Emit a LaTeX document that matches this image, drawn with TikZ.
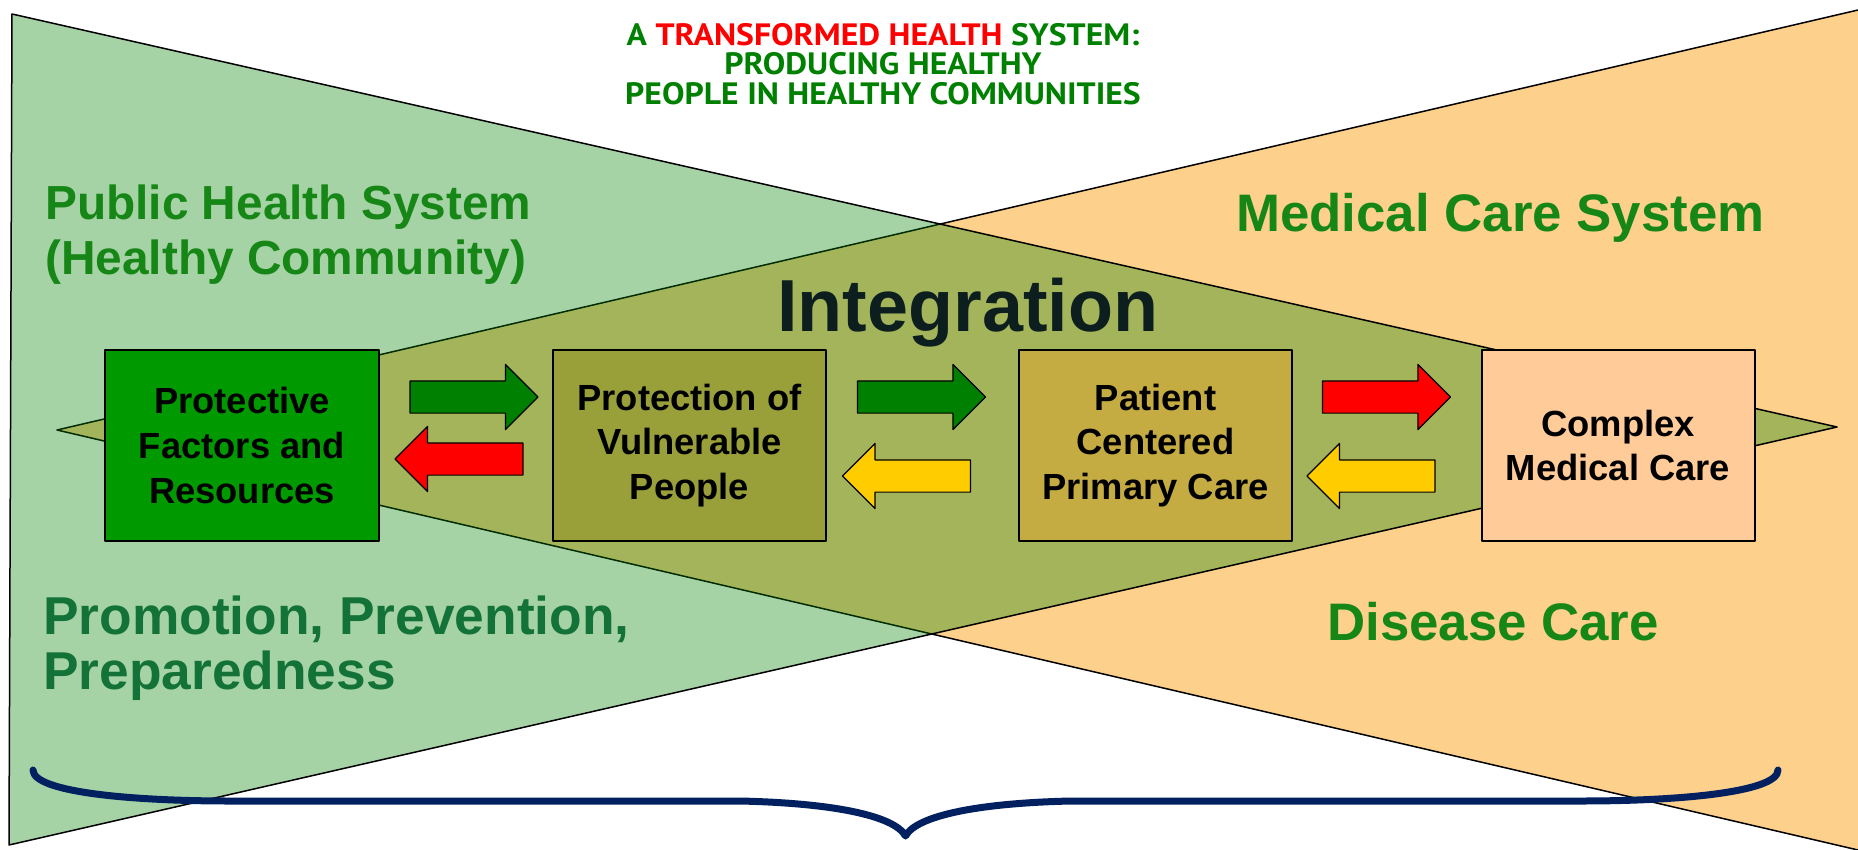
\documentclass[tikz,border=0pt]{standalone}
\usepackage{fontspec}
\setmainfont{Liberation Sans}
\newfontfamily\titlefont{PT Sans}[FakeStretch=1.09]
\usetikzlibrary{shapes.arrows}

\definecolor{orangefill}{RGB}{253,208,140}
\definecolor{phgreen}{RGB}{0,128,0}
\definecolor{labelgreen}{RGB}{22,134,22}
\definecolor{promogreen}{RGB}{19,114,56}
\definecolor{intdark}{RGB}{13,30,30}
\definecolor{factorsgreen}{RGB}{0,153,0}
\definecolor{vulnolive}{RGB}{153,160,58}
\definecolor{primarygold}{RGB}{196,172,66}
\definecolor{complexpeach}{RGB}{255,204,153}
\definecolor{arrowyellow}{RGB}{255,204,0}
\definecolor{bracenavy}{RGB}{0,32,96}

\begin{document}
\begin{tikzpicture}[x=1bp, y=-1bp, line join=round,
    box/.style={draw=black, line width=2bp, minimum width=273bp, minimum height=191bp,
      inner sep=0pt, align=center, font=\fontsize{36.5}{45}\selectfont\bfseries},
    blockarrow/.style={single arrow, draw=black, line width=1.2bp, minimum height=128bp,
      inner xsep=0pt, inner ysep=15.5bp, single arrow head extend=16.5bp, single arrow tip angle=90},
    toright/.style={blockarrow, shape border rotate=0},
    toleft/.style={blockarrow, shape border rotate=180},
    sidelabel/.style={anchor=base west, inner sep=0pt, align=left}]
    \useasboundingbox (0,0) rectangle (1858,850);

    \coordinate (OA) at (57,430);
    \coordinate (OT) at (1858,10);
    \coordinate (OB) at (1858,850);
    \coordinate (GT) at (12,14);
    \coordinate (GB) at (9,845);
    \coordinate (GA) at (1837,427);

    \fill[orangefill] (OA)--(OT)--(OB)--cycle;
    \draw[line width=1.5bp] (OT)--(OA)--(OB);
    \fill[phgreen, fill opacity=.35] (GT)--(GA)--(GB)--cycle;
    \draw[line width=1.5bp] (GT)--(GA)--(GB)--cycle;

    \node[font=\titlefont\bfseries\fontsize{31}{29.5}\selectfont, text=phgreen, align=center, inner sep=0pt, anchor=base] (title) at (883,104)
      {A \textcolor{red}{TRANSFORMED HEALTH} SYSTEM:\\PRODUCING HEALTHY\\PEOPLE IN HEALTHY COMMUNITIES};

    \node[sidelabel, text=labelgreen, font=\fontsize{48}{55}\selectfont\bfseries] (public) at (45,274)
      {Public Health System\\(Healthy Community)};
    \node[sidelabel, text=labelgreen, font=\fontsize{53}{55}\selectfont\bfseries] (medical) at (1236,231)
      {Medical Care System};
    \node[sidelabel, text=promogreen, font=\fontsize{53.5}{55}\selectfont\bfseries] (promotion) at (43,689)
      {Promotion, Prevention,\\Preparedness};
    \node[sidelabel, text=labelgreen, font=\fontsize{53}{55}\selectfont\bfseries] (disease) at (1327,640)
      {Disease Care};
    \node[sidelabel, text=intdark, font=\fontsize{74}{80}\selectfont\bfseries] (integration) at (777,331)
      {Integration};

    \node[box, fill=factorsgreen] (factors) at (242,445.5) {Protective\\Factors and\\Resources};
    \node[box, fill=vulnolive] (vulnerable) at (689.5,445.5) {Protection of\\Vulnerable\\People};
    \node[box, fill=primarygold] (primary) at (1155.5,445.5) {Patient\\Centered\\Primary Care};
    \node[box, fill=complexpeach] (complex) at (1618,445.5) {Complex\\Medical Care};

    \node[toright, fill=phgreen] (fwdA) at (466,397) {};
    \node[toleft, fill=red] (backA) at (467,459) {};
    \node[toright, fill=phgreen] (fwdB) at (913.5,397) {};
    \node[toleft, fill=arrowyellow] (backB) at (914.5,476) {};
    \node[toright, fill=red] (fwdC) at (1378.5,397) {};
    \node[toleft, fill=arrowyellow] (backC) at (1379,476) {};

    \coordinate (braceL) at (33,770);
    \coordinate (braceR) at (1778,770);
    \coordinate (braceTip) at (905.5,836);
    \draw[bracenavy, line width=7bp, line cap=round]
      (braceL) .. controls (33,792) and (130,801) .. (230,801) -- (740,801)
      .. controls (830,803) and (894,815) .. (braceTip)
      .. controls (917,815) and (981,803) .. (1071,801) -- (1581,801)
      .. controls (1681,801) and (1778,792) .. (braceR);
\end{tikzpicture}
\end{document}
